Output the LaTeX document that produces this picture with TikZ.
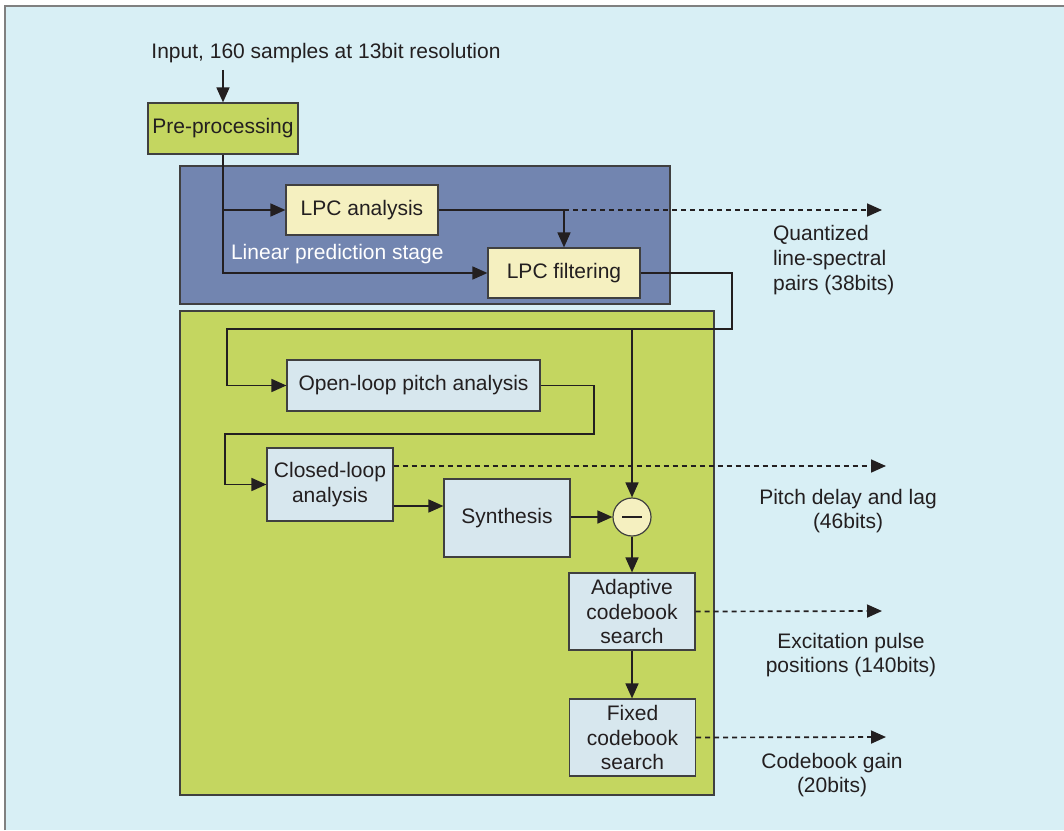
\documentclass[tikz,border=0pt]{standalone}
\usepackage{fontspec}
\setmainfont{Liberation Sans}
\usepackage{xcolor}
\usetikzlibrary{arrows.meta}
\definecolor{pagebg}{RGB}{216,239,245}
\definecolor{stagegreen}{RGB}{196,214,96}
\definecolor{stageblue}{RGB}{114,133,176}
\definecolor{lpcyellow}{RGB}{245,240,192}
\definecolor{boxblue}{RGB}{215,231,238}
\definecolor{inkdark}{RGB}{35,31,32}
\definecolor{edgegray}{RGB}{64,64,64}

\begin{document}
\begin{tikzpicture}[
    x=0.5pt,y=-0.5pt,
    font=\fontsize{10.5}{12.3}\selectfont,
    every node/.style={text=inkdark},
    panel/.style={draw=edgegray,line width=0.6pt},
    blk/.style={rectangle,draw=edgegray,line width=0.6pt,align=center,inner sep=1pt},
    lpcbox/.style={blk,fill=lpcyellow,minimum width=76pt,minimum height=25pt},
    greenbox/.style={blk,fill=stagegreen,minimum width=75pt,minimum height=25.5pt},
    bluebox/.style={blk,fill=boxblue,minimum width=63pt,minimum height=38.5pt},
    arrow/.style={-{Triangle[length=7.5pt,width=6.5pt]},line width=0.85pt,draw=inkdark},
    dotarrow/.style={arrow,dash pattern=on 2.5pt off 2pt},
    outlabel/.style={align=center}
  ]
    % page
    \useasboundingbox (0,0) rectangle (1064,830);
    \fill[pagebg] (5,6) rectangle (1064,830);
    \draw[draw=gray,line width=1pt] (5,830) -- (5,6) -- (1064,6);

    % stage panels
    \draw[panel,fill=stageblue] (180,166) rectangle (670,304);
    \draw[panel,fill=stagegreen] (180,311) rectangle (714,795);

    % blocks
    \node (inp) at (326,53) {Input, 160 samples at 13bit resolution};
    \node[greenbox] (pre) at (223,128.5) {Pre-processing};
    \node[lpcbox] (lpca) at (362,210) {LPC analysis};
    \node[lpcbox] (lpcf) at (564,273) {LPC filtering};
    \node[anchor=west,text=white] (lps) at (224,254) {Linear prediction stage};
    \node[bluebox,minimum width=126.5pt,minimum height=25.5pt] (olp) at (413.5,385.5) {Open-loop pitch analysis};
    \node[bluebox,minimum height=36.5pt] (clp) at (330,484.5) {Closed-loop\\analysis};
    \node[bluebox,minimum height=39pt] (syn) at (507,518) {Synthesis};
    \node[circle,draw=edgegray,line width=0.6pt,fill=lpcyellow,minimum size=19pt,inner sep=0pt] (sub) at (632,517) {};
    \draw[line width=1.2pt,draw=inkdark] ([xshift=-5pt]sub.center) -- ([xshift=5pt]sub.center);
    \node[bluebox] (ada) at (632,611.5) {Adaptive\\codebook\\search};
    \node[bluebox] (fix) at (632.5,737.5) {Fixed\\codebook\\search};

    % outputs
    \coordinate (qout) at (882,210);
    \coordinate (pout) at (886,466);
    \coordinate (eout) at (882,611);
    \coordinate (gout) at (886,737);
    \node[anchor=west,align=left] (qlab) at (766,260) {Quantized\\line-spectral\\pairs (38bits)};
    \node[outlabel] (plab) at (848,511) {Pitch delay and lag\\(46bits)};
    \node[outlabel] (elab) at (851,655) {Excitation pulse\\positions (140bits)};
    \node[outlabel] (glab) at (832,775) {Codebook gain\\(20bits)};

    % routing points
    \coordinate (j1) at (732,329);
    \coordinate (j2) at (227,329);
    \coordinate (j3) at (594,434);
    \coordinate (j4) at (225,434);

    % connectors
    \draw[arrow] (pre |- inp.south) -- (pre.north);
    \draw[arrow] (pre.south) |- (lpca.west);
    \draw[arrow] (pre.south) |- (lpcf.west);
    \draw[arrow] (lpca.east) -| (lpcf.north);
    \draw[dotarrow] (lpcf.north |- lpca.east) -- (qout);
    \draw[arrow] (lpcf.east) -| (j1) -- (j2) |- (olp.west);
    \draw[arrow] (sub.north |- j1) -- (sub.north);
    \draw[arrow] (olp.east) -| (j3) -- (j4) |- (clp.west);
    \draw[dotarrow] (clp.east |- pout) -- (pout);
    \draw[arrow] ([yshift=-10.75pt]clp.east) coordinate (c1) -- (c1 -| syn.west);
    \draw[arrow] (syn.east |- sub.west) -- (sub.west);
    \draw[arrow] (sub.south) -- (ada.north);
    \draw[dotarrow] (ada.east) -- (eout);
    \draw[arrow] (ada.south) -- (ada.south |- fix.north);
    \draw[dotarrow] (fix.east) -- (gout);
  \end{tikzpicture}
\end{document}
